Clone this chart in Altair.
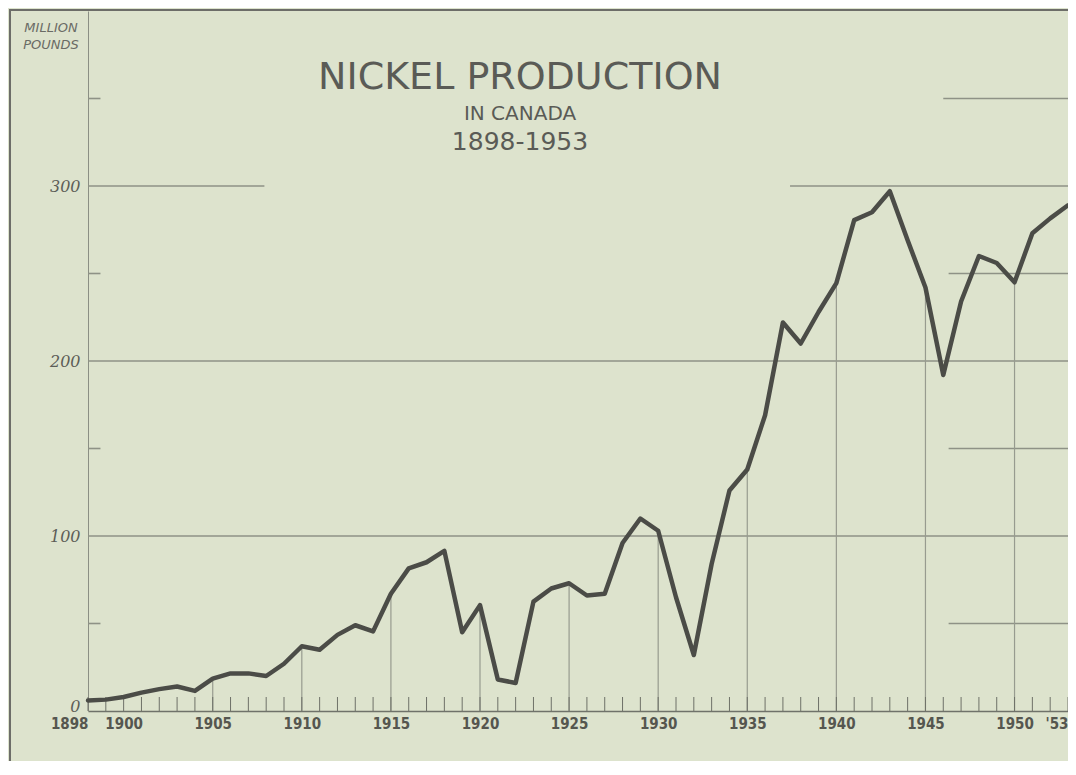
import altair as alt
import pandas as pd

# ---------------- data ----------------
years = list(range(1898, 1954))
production = [
    6, 6.5, 8, 10.5, 12.5, 14, 11.5, 18.5, 21.5, 21.5,      # 1898-1907
    20, 27, 37, 35, 43.5, 49, 45.5, 67, 81.5, 85,            # 1908-1917
    91.5, 45, 60.5, 18, 16, 62.5, 70, 73, 66, 67,            # 1918-1927
    96, 110, 103, 65, 32, 84, 126, 138, 169, 222,            # 1928-1937
    210, 228, 244.5, 280.5, 285, 297, 269, 242, 192, 234,    # 1938-1947
    260, 256, 245, 273, 281.5, 289,                          # 1948-1953
]

x_label_values = [1898, 1900, 1905, 1910, 1915, 1920, 1925, 1930, 1935, 1940, 1945, 1950, 1953]
y_label_values = [0, 100, 200, 300]
drop_years = [1905, 1910, 1915, 1920, 1925, 1930, 1935, 1940, 1945, 1950]

# horizontal rulings (value, from-year, to-year)
grid_values = [100, 200, 300, 300, 50, 150, 250, 350]
grid_start = [1898, 1898, 1898, 1937.4, 1946.3, 1946.3, 1946.3, 1946.0]
grid_end = [1953, 1953, 1907.9, 1953, 1953, 1953, 1953, 1953]
minor_tick_values = [50, 150, 250, 350]

title_text = "NICKEL PRODUCTION"
subtitle_text = "IN CANADA"
period_text = "1898-1953"
unit_lines = ["MILLION", "POUNDS"]

# ---------------- styling ----------------
PAPER = "#dde3cd"
INK = "#4b4c47"
GRID = "#8e9286"
TEXT = "#5a5b56"

W, H = 980, 700
xs = alt.Scale(domain=[1898, 1953], nice=False, zero=False)
ys = alt.Scale(domain=[0, 400], nice=False, zero=True)

x_axis = alt.Axis(
    values=x_label_values, title=None, grid=False, ticks=False,
    domain=True, domainColor="#6f726a", domainWidth=1.5,
    labelExpr="datum.value == 1953 ? \"'53\" : '' + datum.value",
    labelAlign={"condition": {"test": "datum.value == 1898 || datum.value == 1953", "value": "right"},
                "value": "center"},
    labelFont="Liberation Sans Narrow, DejaVu Sans Condensed, sans-serif",
    labelFontSize=15, labelFontWeight="bold", labelColor="#55564f",
    labelPadding=5, labelOverlap=False, labelFlush=False,
)
y_axis = alt.Axis(
    values=y_label_values, title=None, grid=False, ticks=False,
    domain=True, domainColor="#8b8f84", domainWidth=1,
    labelFont="DejaVu Serif", labelFontStyle="italic", labelFontSize=16,
    labelBaseline={"condition": {"test": "datum.value == 0", "value": "alphabetic"}, "value": "middle"},
    labelColor="#5c5d57", labelPadding=8, labelOverlap=False, labelFlush=False,
)

df = pd.DataFrame({"year": years, "production": production})
drop_df = df[df["year"].isin(drop_years)]
grid_df = pd.DataFrame({"v": grid_values, "x0": grid_start, "x1": grid_end})
minor_df = pd.DataFrame({"v": minor_tick_values,
                         "x0": [1898] * len(minor_tick_values),
                         "x1": [1898.7] * len(minor_tick_values)})
tick_df = pd.DataFrame({"year": years, "y0": [0] * len(years), "y1": [8] * len(years)})

grid = alt.Chart(grid_df).mark_rule(color=GRID, strokeWidth=1.6).encode(
    x=alt.X("x0:Q", scale=xs, axis=x_axis),
    x2="x1:Q",
    y=alt.Y("v:Q", scale=ys, axis=y_axis),
)
minor = alt.Chart(minor_df).mark_rule(color=GRID, strokeWidth=1.6).encode(
    x=alt.X("x0:Q", scale=xs, axis=x_axis),
    x2="x1:Q",
    y=alt.Y("v:Q", scale=ys, axis=y_axis),
)
drops = alt.Chart(drop_df).mark_rule(color="#979b8f", strokeWidth=1.2).encode(
    x=alt.X("year:Q", scale=xs, axis=x_axis),
    y=alt.Y("production:Q", scale=ys, axis=y_axis),
    y2=alt.datum(0),
)
ticks = alt.Chart(tick_df).mark_rule(color="#6e7168", strokeWidth=1).encode(
    x=alt.X("year:Q", scale=xs, axis=x_axis),
    y=alt.Y("y0:Q", scale=ys, axis=y_axis),
    y2="y1:Q",
)

line = alt.Chart(df).mark_line(color=INK, strokeWidth=4.5, strokeJoin="round", strokeCap="round").encode(
    x=alt.X("year:Q", scale=xs, axis=x_axis),
    y=alt.Y("production:Q", scale=ys, axis=y_axis),
)

one = pd.DataFrame({"k": [0]})


def label(text, x, y, size, font="DejaVu Sans", style="normal", color=TEXT, align="center"):
    return alt.Chart(pd.DataFrame({"t": [text]})).mark_text(
        font=font, fontSize=size, fontStyle=style, color=color, align=align, baseline="alphabetic"
    ).encode(text="t:N", x=alt.value(x), y=alt.value(y))


texts = [
    label(title_text, 432, 78, 38),
    label(subtitle_text, 432, 109, 20),
    label(period_text, 432, 139, 25),
    label(unit_lines[0], -37, 21, 13, style="italic", color="#6a6b65"),
    label(unit_lines[1], -37, 38, 13, style="italic", color="#6a6b65"),
]

frame_left = alt.Chart(one).mark_rule(color="#6c6d68", strokeWidth=2).encode(
    x=alt.value(-78), y=alt.value(-1), y2=alt.value(H + 50)
)
frame_top = alt.Chart(one).mark_rule(color="#6c6d68", strokeWidth=2).encode(
    x=alt.value(-79), x2=alt.value(W), y=alt.value(-1)
)

chart = alt.layer(grid, minor, drops, ticks, line, *texts, frame_left, frame_top).properties(
    width=W, height=H,
    autosize=alt.AutoSizeParams(type="none"),
    padding={"left": 80, "top": 3, "right": 0, "bottom": 50},
    background=PAPER,
).configure_view(stroke=None)

chart.save("out.html", embed_options={"renderer": "svg", "actions": False})
